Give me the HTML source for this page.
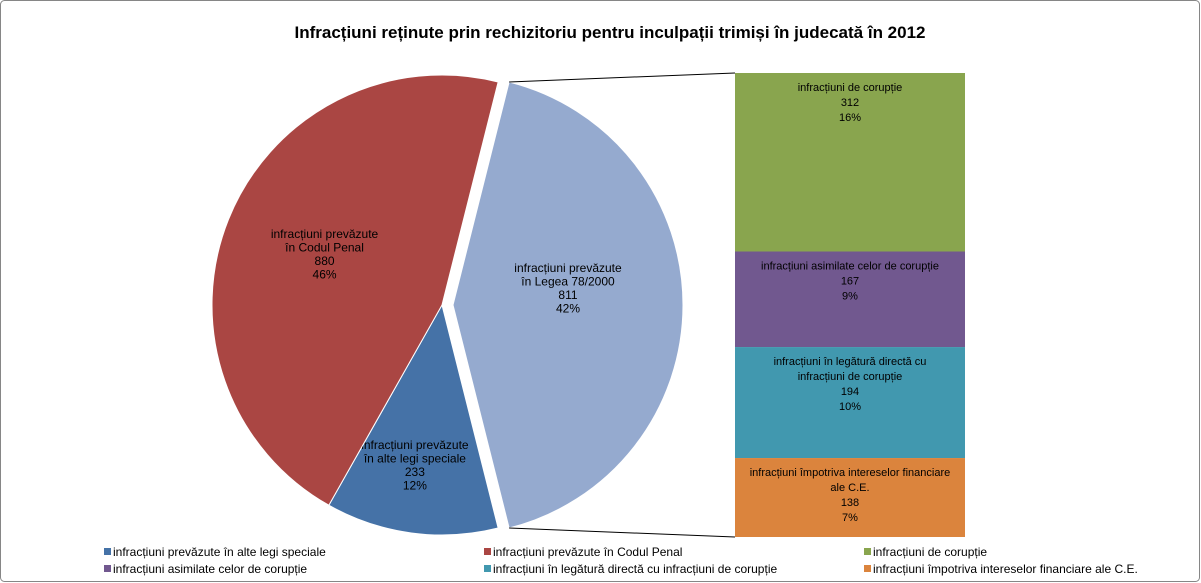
<!DOCTYPE html>
<html><head><meta charset="utf-8"><style>
html,body{margin:0;padding:0;background:#fff}
svg{display:block;font-family:"Liberation Sans",Arial,sans-serif}
</style></head><body>
<svg id="c" width="1201" height="583" xmlns="http://www.w3.org/2000/svg">
<rect x="0.5" y="0.5" width="1199" height="581" rx="4" fill="#fff" stroke="#868686"/>
<text x="610" y="38" text-anchor="middle" font-size="17" font-weight="bold" fill="#000">Infracțiuni reținute prin rechizitoriu pentru inculpații trimiși în judecată în 2012</text>
<g id="pie"></g><g id="bars"></g><g id="legend"></g>
</svg>
<script>
const pieNames=["infracțiuni prevăzute în Codul Penal","infracțiuni prevăzute în alte legi speciale","infracțiuni prevăzute în Legea 78/2000"];
const pieValues=[880,233,811];
const pieLabels=[["infracțiuni prevăzute","în Codul Penal"],["infracțiuni prevăzute","în alte legi speciale"],["infracțiuni prevăzute","în Legea 78/2000"]];
const pieColors=["#AA4643","#4572A7","#95AACF"];
const barNames=["infracțiuni de corupție","infracțiuni asimilate celor de corupție","infracțiuni în legătură directă cu infracțiuni de corupție","infracțiuni împotriva intereselor financiare ale C.E."];
const barValues=[312,167,194,138];
const barLabels=[["infracțiuni de corupție"],["infracțiuni asimilate  celor de corupție"],["infracțiuni în legătură directă cu","infracțiuni de corupție"],["infracțiuni împotriva  intereselor financiare","ale C.E."]];
const barColors=["#89A54E","#71588F","#4198AF","#DB843D"];
const legendOrder=[1,0,"b0","b1","b2","b3"];
const NS="http://www.w3.org/2000/svg";
function mk(t,a,p){const e=document.createElementNS(NS,t);for(const k in a)e.setAttribute(k,a[k]);p.appendChild(e);return e;}
const total=pieValues.reduce((a,b)=>a+b,0);
const cx=442,cy=305,R=230,explode=11;
const pie=document.getElementById('pie');
// split slice (index 2) centered at angle 0
const sa=pieValues[2]/total*2*Math.PI;
let start=sa/2; // after split slice, clockwise: index1, then index0
const order=[1,0];
const pct=v=>Math.round(v/total*100)+"%";
function slice(a0,a1,ox,col,name){
  const x0=cx+ox+R*Math.cos(a0),y0=cy+R*Math.sin(a0),x1=cx+ox+R*Math.cos(a1),y1=cy+R*Math.sin(a1);
  const large=(a1-a0)>Math.PI?1:0;
  const p=mk('path',{d:`M${cx+ox},${cy}L${x0},${y0}A${R},${R} 0 ${large} 1 ${x1},${y1}Z`,fill:col,stroke:'#fff','stroke-width':1},pie);
  
  
}
function label(x,y,lines,size,name){
  const t=mk('text',{x:x,y:y,'text-anchor':'middle','font-size':size,fill:'#000'},pie);
  
  
  lines.forEach((l,i)=>{const s=mk('tspan',{x:x,dy:i?size+1.5:0},t);s.textContent=l;});
}
for(const i of order){
  const a=pieValues[i]/total*2*Math.PI;
  slice(start,start+a,0,pieColors[i],'pie-slice-'+i);
  const m=start+a/2, r=i===0?R*0.55:R*0.72;
  const lx=cx+r*Math.cos(m), ly=cy+r*Math.sin(m);
  label(lx+(i===1?-5:0),ly-20,pieLabels[i].concat([String(pieValues[i]),pct(pieValues[i])]),12,'pie-label-'+i);
  start+=a;
}
slice(-sa/2,sa/2,explode,pieColors[2],'pie-slice-2');
label(cx+explode+R*0.5,cy-33,pieLabels[2].concat([String(pieValues[2]),pct(pieValues[2])]),12,'pie-label-2');
// bars
const bars=document.getElementById('bars');
const bx=735,bw=230,bt=73,bb=537;
const btot=barValues.reduce((a,b)=>a+b,0);
const tx=cx+explode+R*Math.cos(-sa/2),ty=cy+R*Math.sin(-sa/2),tyb=cy+R*Math.sin(sa/2);
let l1=mk('line',{x1:tx,y1:ty,x2:bx,y2:bt,stroke:'#000','stroke-width':1},bars);


let l2=mk('line',{x1:tx,y1:tyb,x2:bx,y2:bb,stroke:'#000','stroke-width':1},bars);


let y=bt;
barValues.forEach((v,i)=>{
  const h=v/btot*(bb-bt);
  const r=mk('rect',{x:bx,y:y,width:bw,height:h,fill:barColors[i]},bars);
  
  
  const lines=barLabels[i].concat([String(v),Math.round(v/total*100)+"%"]);
  const t=mk('text',{x:bx+bw/2,y:y+18,'text-anchor':'middle','font-size':11,fill:'#000'},bars);
  
  
  lines.forEach((l,j)=>{const s=mk('tspan',{x:bx+bw/2,dy:j?15:0},t);s.textContent=l;});
  y+=h;
});
// legend
const lg=document.getElementById('legend');
const lx=[104,484,864],ly=[552,569];
legendOrder.forEach((k,n)=>{
  const col=typeof k==='number'?pieColors[k]:barColors[+k[1]];
  const name=typeof k==='number'?pieNames[k]:barNames[+k[1]];
  const x=lx[n%3],yy=ly[Math.floor(n/3)];
  const g=mk('g',{},lg);
  
  
  mk('rect',{x:x,y:yy-4,width:7,height:7,fill:col},g);
  const t=mk('text',{x:x+9,y:yy+4,'font-size':12,fill:'#000'},g);
  t.textContent=name;
});
</script>
</body></html>
